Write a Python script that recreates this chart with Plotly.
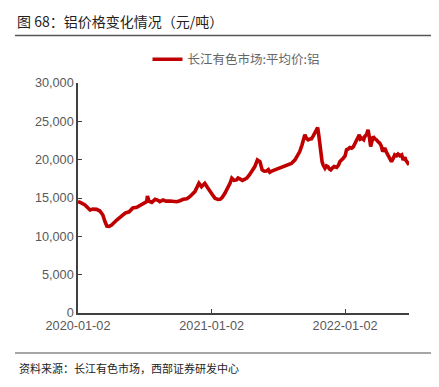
import plotly.graph_objects as go

dates = [
    "2020-01-02", "2020-01-07", "2020-01-21", "2020-02-04", "2020-02-12", "2020-02-22", "2020-03-02",
    "2020-03-10", "2020-03-16", "2020-03-21", "2020-03-27", "2020-04-03", "2020-04-17", "2020-04-26",
    "2020-05-10", "2020-05-21", "2020-05-31", "2020-06-11", "2020-06-24", "2020-07-08", "2020-07-10",
    "2020-07-14", "2020-07-22", "2020-07-31", "2020-08-08", "2020-08-13", "2020-08-22", "2020-08-30",
    "2020-09-10", "2020-09-18", "2020-09-28", "2020-10-07", "2020-10-16", "2020-10-26", "2020-11-03",
    "2020-11-17", "2020-11-22", "2020-11-28", "2020-12-05", "2020-12-09", "2020-12-14", "2020-12-21",
    "2020-12-28", "2021-01-03", "2021-01-11", "2021-01-19", "2021-01-25", "2021-01-31", "2021-02-07",
    "2021-02-15", "2021-02-21", "2021-02-26", "2021-03-04", "2021-03-11", "2021-03-15", "2021-03-20",
    "2021-03-27", "2021-04-03", "2021-04-08", "2021-04-15", "2021-04-17", "2021-04-23", "2021-04-30",
    "2021-05-07", "2021-05-14", "2021-05-20", "2021-05-26", "2021-06-01", "2021-06-06", "2021-06-10",
    "2021-06-17", "2021-06-24", "2021-07-02", "2021-07-12", "2021-07-21", "2021-07-30", "2021-08-08",
    "2021-08-18", "2021-08-24", "2021-08-31", "2021-09-06", "2021-09-09", "2021-09-14", "2021-09-18",
    "2021-09-23", "2021-09-28", "2021-10-02", "2021-10-07", "2021-10-11", "2021-10-15", "2021-10-19",
    "2021-10-22", "2021-10-25", "2021-10-28", "2021-10-31", "2021-11-03", "2021-11-08", "2021-11-12",
    "2021-11-16", "2021-11-20", "2021-11-24", "2021-11-28", "2021-12-03", "2021-12-10", "2021-12-15",
    "2021-12-19", "2021-12-23", "2021-12-28", "2022-01-02", "2022-01-06", "2022-01-11", "2022-01-15",
    "2022-01-20", "2022-01-25", "2022-01-29", "2022-02-03", "2022-02-06", "2022-02-10", "2022-02-13",
    "2022-02-17", "2022-02-22", "2022-02-25", "2022-03-02", "2022-03-06", "2022-03-10", "2022-03-13",
    "2022-03-16", "2022-03-20", "2022-03-25", "2022-03-29", "2022-04-03", "2022-04-07", "2022-04-11",
    "2022-04-15", "2022-04-18", "2022-04-21", "2022-04-25", "2022-04-30", "2022-05-04", "2022-05-09",
    "2022-05-14", "2022-05-18", "2022-05-23", "2022-05-27", "2022-06-01", "2022-06-06", "2022-06-10",
    "2022-06-15", "2022-06-17", "2022-06-21", "2022-06-26",
]

prices = [
    14520, 14450, 14090, 13430, 13550, 13520, 13300,
    12780, 11900, 11340, 11300, 11470, 12120, 12500,
    13040, 13200, 13700, 13800, 14090, 14520, 15260,
    14600, 14440, 14830, 14700, 14520, 14740, 14600,
    14610, 14550, 14520, 14650, 14830, 14900, 15170,
    15830, 16300, 16920, 16480, 16700, 16920, 16400,
    15830, 15500, 14960, 14800, 14830, 15100, 15610,
    16300, 16920, 17580, 17300, 17360, 17600, 17490,
    17300, 17450, 17600, 18010, 18230, 18600, 19100,
    19970, 19750, 18670, 18500, 18530, 18700, 18360,
    18550, 18670, 18800, 18970, 19150, 19320, 19500,
    19970, 20400, 21060, 21900, 22590, 23240, 22800,
    22590, 22700, 22720, 23100, 23470, 23800, 24200,
    23200, 21710, 20600, 19750, 19300, 18890, 19200,
    19100, 18800, 18670, 18900, 19100, 19000, 19300,
    19750, 19900, 20190, 20500, 21280, 21400, 21580,
    21500, 21710, 22100, 22590, 22900, 23240, 22700,
    22810, 22600, 23020, 23300, 23900, 22800, 21710,
    22300, 23020, 22700, 22590, 22300, 22160, 21800,
    21060, 21300, 21500, 21000, 20630, 20300, 19750,
    20200, 20630, 20500, 20720, 20500, 20630, 19970,
    20300, 19970, 19600, 19320,
]

x_tick_vals = ["2020-01-02", "2021-01-02", "2022-01-02"]
x_tick_text = ["2020-01-02", "2021-01-02", "2022-01-02"]
y_tick_vals = [0, 5000, 10000, 15000, 20000, 25000, 30000]
series_name = "长江有色市场:平均价:铝"
title_text = "图 68：铝价格变化情况（元/吨）"
source_text = "资料来源：长江有色市场，西部证券研发中心"

W, H = 439, 387
L, R, T, B = 78, 30, 83.3, 74.3
pw = W - L - R
ph = H - T - B

def px_x(p):
    return (p - L) / pw

def px_y(p):
    return (H - B - p) / ph

cjk = "Noto Sans CJK SC"
latin = "Liberation Sans, Arial, sans-serif"

fig = go.Figure()
fig.add_trace(go.Scatter(
    x=dates, y=prices, mode="lines", name=series_name,
    line=dict(color="#C00000", width=3.6),
))

fig.update_layout(
    width=W, height=H,
    margin=dict(l=L, r=R, t=T, b=B, autoexpand=False),
    paper_bgcolor="white", plot_bgcolor="white",
    showlegend=True,
    legend=dict(
        orientation="h", x=px_x(236), xanchor="center", y=px_y(60), yanchor="middle",
        font=dict(family=cjk, size=12.5, color="#666666"),
        bgcolor="rgba(0,0,0,0)", itemwidth=30,
    ),
    title=dict(
        text=title_text, x=17 / W, xanchor="left", xref="container",
        y=1 - 22 / H, yanchor="middle", yref="container",
        font=dict(family=cjk, size=14, color="#222222"),
    ),
    xaxis=dict(
        type="date", range=[dates[0], dates[-1]],
        tickvals=x_tick_vals, ticktext=x_tick_text,
        showgrid=False, zeroline=False,
        showline=True, linecolor="#404040", linewidth=1.5,
        ticks="inside", ticklen=4, tickcolor="#404040", tickwidth=1,
        tickfont=dict(family=latin, size=12.7, color="#595959"),
        fixedrange=True,
    ),
    yaxis=dict(
        range=[0, 30000], tickvals=y_tick_vals, tickformat=",",
        showgrid=False, zeroline=False,
        showline=True, linecolor="#404040", linewidth=1.5,
        ticks="inside", ticklen=4, tickcolor="#404040", tickwidth=1,
        tickfont=dict(family=latin, size=12.7, color="#595959"),
        fixedrange=True,
    ),
    shapes=[
        dict(type="line", xref="paper", yref="paper", x0=px_x(15), x1=px_x(431),
             y0=px_y(36), y1=px_y(36), line=dict(color="#555555", width=1.5)),
        dict(type="line", xref="paper", yref="paper", x0=px_x(15), x1=px_x(431),
             y0=px_y(352.7), y1=px_y(352.7), line=dict(color="#888888", width=1.5)),
    ],
    annotations=[
        dict(text=source_text, xref="paper", yref="paper", x=px_x(17), y=px_y(368),
             xanchor="left", yanchor="middle", showarrow=False,
             font=dict(family=cjk, size=11, color="#222222")),
    ],
)

fig.write_html(
    "out.html",
    config={"displayModeBar": False},
    post_script="document.body.style.margin='0';document.body.style.padding='0';",
)
